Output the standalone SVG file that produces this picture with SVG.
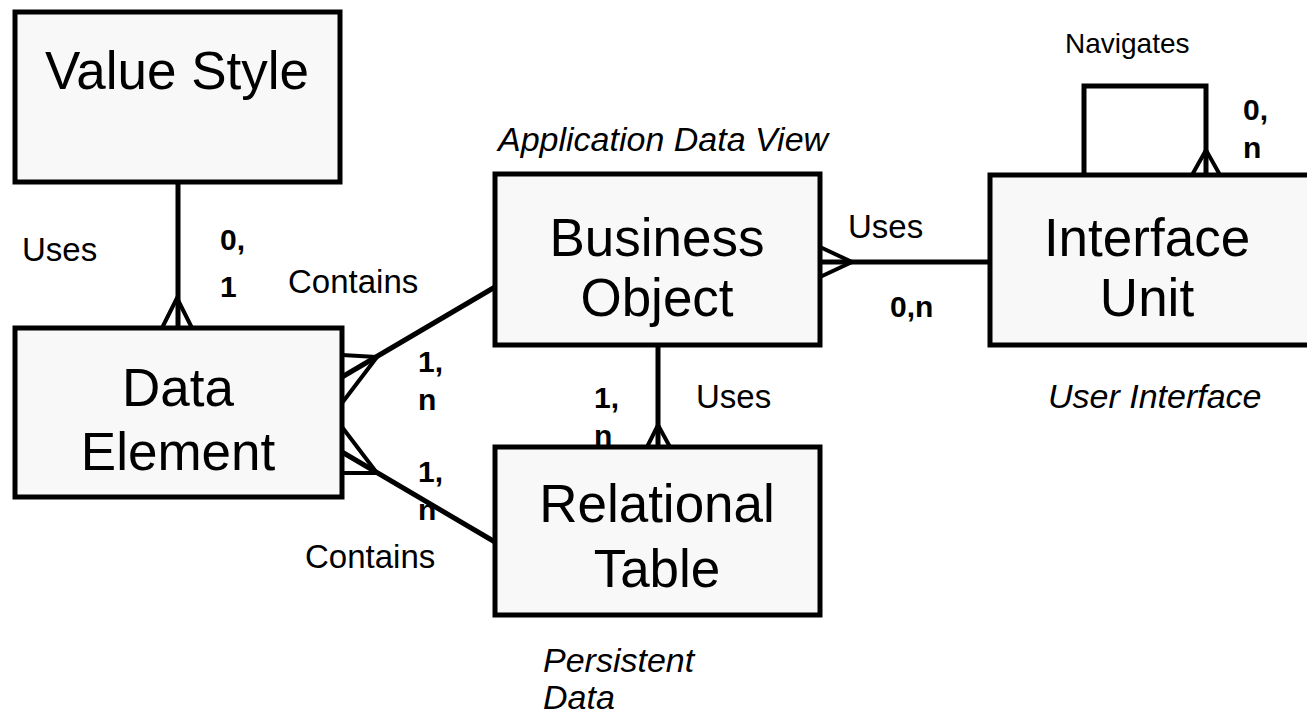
<svg xmlns="http://www.w3.org/2000/svg" width="1307" height="715" viewBox="0 0 1307 715">
<style>
.box{fill:#f8f8f8;stroke:#000;stroke-width:5}
.t{font-family:"Liberation Sans",Arial,sans-serif;font-size:53px;fill:#000;text-anchor:middle}
.l{font-family:"Liberation Sans",Arial,sans-serif;font-size:33px;fill:#000}
.b{font-family:"Liberation Sans",Arial,sans-serif;font-size:30px;font-weight:bold;fill:#000}
.i{font-family:"Liberation Sans",Arial,sans-serif;font-size:34px;font-style:italic;fill:#000}
.c{fill:none;stroke:#000;stroke-width:5}
.f{fill:none;stroke:#000;stroke-width:4}
</style>
<rect width="1307" height="715" fill="#fff"/>
<g id="labels">
<text class="l" x="22" y="261">Uses</text>
<text class="b" x="220" y="250">0,</text>
<text class="b" x="220" y="297">1</text>
<text class="l" x="288" y="293">Contains</text>
<text class="l" x="305" y="568">Contains</text>
<text class="b" x="418" y="372">1,</text>
<text class="b" x="418" y="410">n</text>
<text class="b" x="418" y="482">1,</text>
<text class="b" x="418" y="520">n</text>
<text class="b" x="594" y="408">1,</text>
<text class="b" x="594" y="446">n</text>
<text class="l" x="696" y="408">Uses</text>
<text class="l" x="848" y="238">Uses</text>
<text class="b" x="890" y="317">0,n</text>
<text class="l" x="1065" y="53" style="font-size:28px">Navigates</text>
<text class="b" x="1243" y="120">0,</text>
<text class="b" x="1243" y="158">n</text>
<text class="i" x="498" y="151">Application Data View</text>
<text class="i" x="1048" y="408">User Interface</text>
<text class="i" x="543" y="672">Persistent</text>
<text class="i" x="543" y="709">Data</text>
</g>
<g id="connectors">
<path class="c" d="M178,182 V328"/>
<path class="f" d="M162,328 L177,298 L192,328"/>
<path class="c" d="M495,287 L342,377"/>
<path class="f" d="M342,355 L377,357 L342,403"/>
<path class="c" d="M495,542 L342,452"/>
<path class="f" d="M342,473 L377,473 L342,427"/>
<path class="c" d="M658,345 V447"/>
<path class="f" d="M647,447 L658,425 L670,447"/>
<path class="c" d="M820,262 H990"/>
<path class="f" d="M820,247 L852,262 L820,277"/>
<path class="c" d="M1084,175 V86 H1206 V175"/>
<path class="f" d="M1192,175 L1206,150 L1220,175"/>
</g>
<g id="value-style"><rect class="box" x="15" y="12" width="325" height="170"/><text class="t" x="177" y="89">Value Style</text></g>
<g id="data-element"><rect class="box" x="15" y="328" width="327" height="169"/><text class="t" x="178" y="406">Data</text><text class="t" x="178" y="470">Element</text></g>
<g id="business-object"><rect class="box" x="495" y="174" width="325" height="171"/><text class="t" x="657" y="256">Business</text><text class="t" x="657" y="316">Object</text></g>
<g id="interface-unit"><rect class="box" x="990" y="175" width="322" height="170"/><text class="t" x="1147" y="256">Interface</text><text class="t" x="1147" y="316">Unit</text></g>
<g id="relational-table"><rect class="box" x="495" y="447" width="325" height="168"/><text class="t" x="657" y="522">Relational</text><text class="t" x="657" y="587">Table</text></g>
</svg>
